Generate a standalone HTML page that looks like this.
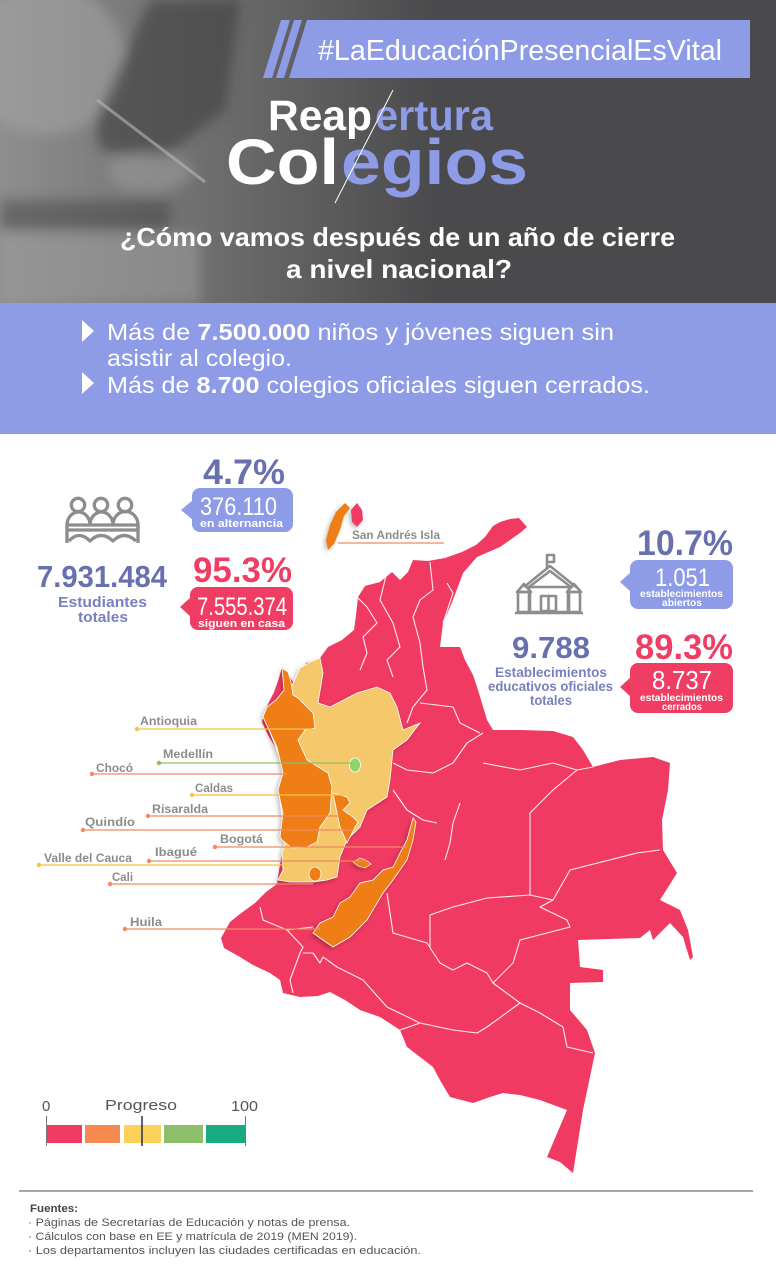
<!DOCTYPE html>
<html><head><meta charset="utf-8"><style>
html,body{margin:0;padding:0;background:#fff;}
svg{display:block;font-family:"Liberation Sans",Arial,sans-serif;}
</style></head><body>
<svg width="776" height="1280" viewBox="0 0 776 1280" xmlns="http://www.w3.org/2000/svg">
<defs>
<linearGradient id="hg" x1="0" y1="0" x2="1" y2="0">
<stop offset="0" stop-color="#8e8e8e"/><stop offset="0.5" stop-color="#6c6c6d"/><stop offset="1" stop-color="#4a4a4c"/>
</linearGradient>
<filter id="bl" x="-20%" y="-20%" width="140%" height="140%"><feGaussianBlur stdDeviation="6"/></filter>
<filter id="sh" x="-10%" y="-10%" width="120%" height="120%"><feDropShadow dx="-2" dy="2" stdDeviation="2" flood-color="#000" flood-opacity="0.25"/></filter>
</defs>

<!-- HEADER -->
<rect x="0" y="0" width="776" height="303" fill="#4a4a4c"/>
<rect x="0" y="0" width="440" height="303" fill="url(#hg)"/>
<g filter="url(#bl)">
<ellipse cx="45" cy="60" rx="80" ry="75" fill="#a4a4a4" opacity="0.55"/>
<polygon points="150,0 240,0 225,110 160,160 100,150 95,120" fill="#3c3c3e" opacity="0.6"/>
<ellipse cx="150" cy="172" rx="42" ry="20" fill="#9a9a9a" opacity="0.6"/>
<rect x="0" y="235" width="200" height="68" fill="#9c9c9c" opacity="0.55"/>
<rect x="0" y="200" width="170" height="30" fill="#3a3a3a" opacity="0.45"/>
</g>
<line x1="97" y1="100" x2="205" y2="182" stroke="#b8b8b8" stroke-width="3" opacity="0.6"/>

<!-- hashtag banner -->
<polygon points="281,20 290,20 272,78 263,78" fill="#8e9be6"/>
<polygon points="294,20 302,20 284,78 276,78" fill="#8e9be6"/>
<polygon points="307,20 750,20 750,78 289,78" fill="#8e9be6"/>
<text x="318" y="60" font-size="29" fill="#fff" textLength="404" lengthAdjust="spacingAndGlyphs">#LaEducaciónPresencialEsVital</text>

<!-- title -->
<text x="268" y="130" font-size="43" font-weight="bold" fill="#fff" textLength="104" lengthAdjust="spacingAndGlyphs">Reap</text>
<text x="375" y="130" font-size="43" font-weight="bold" fill="#8e9be6" textLength="118" lengthAdjust="spacingAndGlyphs">ertura</text>
<text x="226" y="184" font-size="64" font-weight="bold" fill="#fff" textLength="113" lengthAdjust="spacingAndGlyphs">Col</text>
<text x="341" y="184" font-size="64" font-weight="bold" fill="#8e9be6" textLength="187" lengthAdjust="spacingAndGlyphs">egios</text>
<line x1="393" y1="90" x2="335" y2="203" stroke="#fff" stroke-width="1"/>

<text x="120" y="246" font-size="26" font-weight="bold" fill="#fff" textLength="555" lengthAdjust="spacingAndGlyphs">¿Cómo vamos después de un año de cierre</text>
<text x="286" y="278" font-size="26" font-weight="bold" fill="#fff" textLength="226" lengthAdjust="spacingAndGlyphs">a nivel nacional?</text>

<!-- BLUE BAND -->
<rect x="0" y="303" width="776" height="131" fill="#8e9be6"/>
<polygon points="82,320 94,331 82,342" fill="#fff"/>
<polygon points="82,372 94,383 82,394" fill="#fff"/>
<text x="107" y="340" font-size="23" fill="#fff" textLength="507" lengthAdjust="spacingAndGlyphs">Más de <tspan font-weight="bold">7.500.000</tspan> niños y jóvenes siguen sin</text>
<text x="107" y="366" font-size="23" fill="#fff" textLength="185" lengthAdjust="spacingAndGlyphs">asistir al colegio.</text>
<text x="107" y="393" font-size="23" fill="#fff" textLength="543" lengthAdjust="spacingAndGlyphs">Más de <tspan font-weight="bold">8.700</tspan> colegios oficiales siguen cerrados.</text>

<!-- MAP -->
<polygon fill="#f03a62" points="527,527 519,518 510,519 500,522 493,526 485,537 476,545 462,552 445,558 428,561 413,560 408,572 400,580 392,572 380,582 365,586 358,597 356,615 354,630 342,640 328,647 320,658 306,663 300,672 298,690 293,682 287,672 282,667 279,678 274,692 266,708 262,722 268,735 277,750 287,770 281,785 280,800 283,817 287,843 282,855 279,870 277,884 266,892 255,903 240,914 230,922 221,938 224,948 240,957 253,965 270,973 280,980 283,993 300,997 318,996 330,992 345,1000 360,1010 380,1017 400,1030 407,1047 420,1057 433,1067 441,1082 450,1097 473,1103 490,1097 503,1093 520,1095 540,1100 567,1110 547,1157 560,1162 573,1173 583,1110 595,1053 587,1030 570,1010 570,983 603,982 603,970 580,967 578,940 640,938 650,930 653,940 670,923 683,937 690,960 693,957 688,930 680,910 660,900 677,873 663,850 662,820 668,790 670,763 653,757 620,760 593,767 583,750 573,737 553,731 520,730 493,730 487,720 478,690 473,675 465,660 460,647 440,647 443,623 453,600 463,573 477,557 500,547 520,533"/>
<g fill="none" stroke="#fff" stroke-width="1.1" opacity="0.9" stroke-linejoin="round">
<polyline points="430,562 433,590 420,600 413,617 420,643 423,667 427,690 413,707 407,723"/>
<polyline points="387,572 380,600 393,623 400,647 387,660 393,677"/>
<polyline points="357,597 367,607 377,623 363,637 367,653 360,670"/>
<polyline points="447,583 453,593 443,623"/>
<polyline points="420,703 453,707 460,723 480,733"/>
<polyline points="393,763 407,770 433,773 453,763 467,743 483,733"/>
<polyline points="483,763 520,770 553,763 577,770 593,767"/>
<polyline points="577,770 553,790 530,813 530,850 530,895"/>
<polyline points="460,803 453,823 450,843 445,860"/>
<polyline points="393,790 407,810 423,820 437,823"/>
<polyline points="430,915 453,907 487,898 530,895 553,900"/>
<polyline points="430,915 430,947"/>
<polyline points="387,893 393,933 427,943 440,963 453,970 467,963 487,973 493,983 520,1003"/>
<polyline points="493,983 513,963 520,940 570,927 567,920 540,907 553,900 570,870 637,853 660,850"/>
<polyline points="520,1003 540,1013 563,1027 567,1047 593,1053"/>
<polyline points="520,1003 487,1027 477,1033 453,1030 420,1023 400,1030"/>
<polyline points="323,957 337,967 363,980 387,1007 420,1023"/>
<polyline points="260,907 263,920 287,930 303,947 300,953 290,980 293,993"/>
<polyline points="303,953 313,953 320,963 323,957"/>
<polyline points="287,930 313,927"/>
</g>
<g filter="url(#sh)">
<polygon fill="#f6c86c" stroke="#fff" stroke-width="0.8" points="320,658 323,673 318,703 330,707 357,693 377,687 390,693 397,707 403,730 420,723 407,740 393,750 390,780 387,797 367,810 360,827 347,840 340,857 337,877 327,880 313,882 290,882 278,880 283,870 282,853 285,845 280,800 285,770 275,745 265,720 290,690 300,668 310,662"/>
<polygon fill="#ef7e14" stroke="#fff" stroke-width="0.8" points="282,668 288,672 291,682 293,695 298,698 313,713 315,728 305,730 298,740 307,760 328,773 332,787 330,813 320,827 317,842 307,847 292,848 282,840 280,837 283,813 278,790 283,773 277,747 263,717 267,707 276,700 284,690 283,678"/>
<polygon fill="#ef7e14" stroke="#fff" stroke-width="0.8" points="333,793 347,797 350,803 343,810 353,817 358,822 355,827 350,837 347,843 340,827 337,813"/>
<polygon fill="#ef7e14" stroke="#fff" stroke-width="0.8" points="413,818 407,840 400,853 393,867 383,870 373,880 360,883 350,897 340,903 333,917 320,923 313,933 323,940 333,947 350,937 367,920 383,893 393,880 407,860 413,840 416,822"/>
<polygon fill="#ef7e14" stroke="#fff" stroke-width="0.6" points="353,862 360,858 366,860 371,864 365,868 358,866"/>
<ellipse cx="315" cy="874" rx="6" ry="7" fill="#ef7e14" stroke="#fff" stroke-width="0.8"/>
<ellipse cx="355" cy="765" rx="5.5" ry="7" fill="#8fd46a" stroke="#fff" stroke-width="0.8"/>
<!-- San Andres -->
<polygon fill="#ef7e14" points="345,503 350,508 344,516 340,530 334,544 328,550 326,540 330,525 336,512"/>
<polygon fill="#f03a62" points="357,503 362,510 363,520 357,527 352,522 351,510"/>
</g>

<!-- map labels -->
<g font-size="11.5" font-weight="bold" fill="#8c8c8c">
<text x="352" y="539" textLength="88" lengthAdjust="spacingAndGlyphs">San Andrés Isla</text>
<text x="140" y="725" textLength="57" lengthAdjust="spacingAndGlyphs">Antioquia</text>
<text x="163" y="758" textLength="50" lengthAdjust="spacingAndGlyphs">Medellín</text>
<text x="96" y="772" textLength="37" lengthAdjust="spacingAndGlyphs">Chocó</text>
<text x="195" y="792" textLength="38" lengthAdjust="spacingAndGlyphs">Caldas</text>
<text x="152" y="813" textLength="56" lengthAdjust="spacingAndGlyphs">Risaralda</text>
<text x="85" y="826" textLength="50" lengthAdjust="spacingAndGlyphs">Quindío</text>
<text x="220" y="843" textLength="43" lengthAdjust="spacingAndGlyphs">Bogotá</text>
<text x="155" y="856" textLength="42" lengthAdjust="spacingAndGlyphs">Ibagué</text>
<text x="44" y="862" textLength="88" lengthAdjust="spacingAndGlyphs">Valle del Cauca</text>
<text x="112" y="881" textLength="21" lengthAdjust="spacingAndGlyphs">Cali</text>
<text x="130" y="926" textLength="32" lengthAdjust="spacingAndGlyphs">Huila</text>
</g>
<g stroke-width="1.3">
<line x1="338" y1="543" x2="444" y2="543" stroke="#f4895f"/>
<line x1="137" y1="729" x2="313" y2="729" stroke="#f6c443"/><circle cx="137" cy="729" r="2.2" fill="#f6c443"/>
<line x1="159" y1="763" x2="353" y2="763" stroke="#8cc063"/><circle cx="159" cy="763" r="2.2" fill="#8cc063"/>
<line x1="92" y1="774" x2="287" y2="774" stroke="#f4895f"/><circle cx="92" cy="774" r="2.2" fill="#f4895f"/>
<line x1="192" y1="795" x2="345" y2="795" stroke="#f6c443"/><circle cx="192" cy="795" r="2.2" fill="#f6c443"/>
<line x1="148" y1="816" x2="340" y2="816" stroke="#f4895f"/><circle cx="148" cy="816" r="2.2" fill="#f4895f"/>
<line x1="83" y1="830" x2="353" y2="830" stroke="#f4895f"/><circle cx="83" cy="830" r="2.2" fill="#f4895f"/>
<line x1="215" y1="847" x2="407" y2="847" stroke="#f4895f"/><circle cx="215" cy="847" r="2.2" fill="#f4895f"/>
<line x1="149" y1="861" x2="367" y2="861" stroke="#f4895f"/><circle cx="149" cy="861" r="2.2" fill="#f4895f"/>
<line x1="39" y1="865" x2="287" y2="865" stroke="#f6c443"/><circle cx="39" cy="865" r="2.2" fill="#f6c443"/>
<line x1="110" y1="884" x2="313" y2="884" stroke="#f4895f"/><circle cx="110" cy="884" r="2.2" fill="#f4895f"/>
<line x1="125" y1="929" x2="320" y2="929" stroke="#f4895f"/><circle cx="125" cy="929" r="2.2" fill="#f4895f"/>
</g>

<!-- LEFT STATS -->
<g fill="none" stroke="#8d8d8d" stroke-width="3.3" stroke-linejoin="round">
<circle cx="78" cy="505" r="6.7"/><circle cx="101" cy="505" r="6.7"/><circle cx="125" cy="505" r="6.7"/>
<path d="M67,525 A11.5,13 0 0 1 90,525 A11.5,13 0 0 1 113,525 A12,13 0 0 1 138,525"/>
<rect x="67" y="525" width="71" height="5"/>
<path d="M67,525 V543 M138,525 V543"/>
<path d="M69,541 Q79,530 90,541 Q101,530 113,541 Q124,530 136,541"/>
</g>
<text x="203" y="484" font-size="35" font-weight="bold" fill="#6870b0" textLength="82" lengthAdjust="spacingAndGlyphs">4.7%</text>
<rect x="192" y="488" width="101" height="44" rx="8" fill="#8e9be6"/>
<polygon points="193,500 181,510 193,520" fill="#8e9be6"/>
<text x="200" y="515" font-size="25" fill="#fff" textLength="77" lengthAdjust="spacingAndGlyphs">376.110</text>
<text x="200" y="527" font-size="11" font-weight="bold" fill="#fff" textLength="83" lengthAdjust="spacingAndGlyphs">en alternancia</text>

<text x="37" y="587" font-size="31" font-weight="bold" fill="#6870b0" textLength="130" lengthAdjust="spacingAndGlyphs">7.931.484</text>
<text x="58" y="607" font-size="15" font-weight="bold" fill="#7880bd" textLength="89" lengthAdjust="spacingAndGlyphs">Estudiantes</text>
<text x="78" y="622" font-size="15" font-weight="bold" fill="#7880bd" textLength="50" lengthAdjust="spacingAndGlyphs">totales</text>

<text x="193" y="582" font-size="35" font-weight="bold" fill="#f03d63" textLength="99" lengthAdjust="spacingAndGlyphs">95.3%</text>
<rect x="190" y="587" width="103" height="43" rx="8" fill="#f03d63"/>
<polygon points="191,597 180,607 191,617" fill="#f03d63"/>
<text x="197" y="615" font-size="25" fill="#fff" textLength="90" lengthAdjust="spacingAndGlyphs">7.555.374</text>
<text x="198" y="627" font-size="11" font-weight="bold" fill="#fff" textLength="87" lengthAdjust="spacingAndGlyphs">siguen en casa</text>

<!-- RIGHT STATS -->
<g fill="none" stroke="#8d8d8d" stroke-width="2.6" stroke-linejoin="round">
<path d="M547,568 V555 H554 V562 H547"/>
<path d="M524,587 L550,566 L576,587"/>
<path d="M529,587 L550,571 L571,587"/>
<rect x="529" y="587" width="40" height="25"/>
<path d="M517,592 L524,584 L531,592 Z"/>
<path d="M567,592 L574,584 L581,592 Z"/>
<rect x="518" y="592" width="12" height="20"/>
<rect x="568" y="592" width="12" height="20"/>
<rect x="541" y="596" width="15" height="15"/>
<path d="M548.5,596 V611"/>
<path d="M515,613 H583"/>
</g>
<text x="637" y="555" font-size="35" font-weight="bold" fill="#6870b0" textLength="96" lengthAdjust="spacingAndGlyphs">10.7%</text>
<rect x="630" y="560" width="103" height="49" rx="8" fill="#8e9be6"/>
<polygon points="631,572 620,582 631,592" fill="#8e9be6"/>
<text x="655" y="586" font-size="25" fill="#fff" textLength="55" lengthAdjust="spacingAndGlyphs">1.051</text>
<text x="640" y="597" font-size="10" font-weight="bold" fill="#fff" textLength="83" lengthAdjust="spacingAndGlyphs">establecimientos</text>
<text x="662" y="606" font-size="10" font-weight="bold" fill="#fff" textLength="40" lengthAdjust="spacingAndGlyphs">abiertos</text>

<text x="512" y="658" font-size="31" font-weight="bold" fill="#6870b0" textLength="78" lengthAdjust="spacingAndGlyphs">9.788</text>
<text x="495" y="677" font-size="14" font-weight="bold" fill="#7880bd" textLength="112" lengthAdjust="spacingAndGlyphs">Establecimientos</text>
<text x="488" y="691" font-size="14" font-weight="bold" fill="#7880bd" textLength="125" lengthAdjust="spacingAndGlyphs">educativos oficiales</text>
<text x="530" y="705" font-size="14" font-weight="bold" fill="#7880bd" textLength="42" lengthAdjust="spacingAndGlyphs">totales</text>

<text x="635" y="659" font-size="35" font-weight="bold" fill="#f03d63" textLength="98" lengthAdjust="spacingAndGlyphs">89.3%</text>
<rect x="630" y="663" width="103" height="50" rx="8" fill="#f03d63"/>
<polygon points="631,677 620,687 631,697" fill="#f03d63"/>
<text x="652" y="689" font-size="26" fill="#fff" textLength="60" lengthAdjust="spacingAndGlyphs">8.737</text>
<text x="640" y="701" font-size="10" font-weight="bold" fill="#fff" textLength="83" lengthAdjust="spacingAndGlyphs">establecimientos</text>
<text x="662" y="710" font-size="10" font-weight="bold" fill="#fff" textLength="40" lengthAdjust="spacingAndGlyphs">cerrados</text>

<!-- LEGEND -->
<g font-size="15" fill="#555">
<text x="42" y="1111">0</text>
<text x="105" y="1110" textLength="72" lengthAdjust="spacingAndGlyphs">Progreso</text>
<text x="231" y="1111" textLength="27" lengthAdjust="spacingAndGlyphs">100</text>
</g>
<rect x="47" y="1125" width="35" height="18" fill="#f03a62"/>
<rect x="85" y="1125" width="35" height="18" fill="#f5894f"/>
<rect x="124" y="1125" width="37" height="18" fill="#fbd15b"/>
<rect x="164" y="1125" width="39" height="18" fill="#8dbf6b"/>
<rect x="206" y="1125" width="39" height="18" fill="#18ab82"/>
<line x1="46.5" y1="1116" x2="46.5" y2="1146" stroke="#777" stroke-width="1"/>
<line x1="245.5" y1="1116" x2="245.5" y2="1146" stroke="#777" stroke-width="1"/>
<line x1="142" y1="1116" x2="142" y2="1146" stroke="#2c2f4a" stroke-width="1.5"/>

<!-- FOOTER -->
<line x1="19" y1="1191" x2="753" y2="1191" stroke="#8a8a8a" stroke-width="1.5"/>
<text x="30" y="1212" font-size="11" font-weight="bold" fill="#444" textLength="48" lengthAdjust="spacingAndGlyphs">Fuentes:</text>
<g font-size="11" fill="#555">
<text x="28" y="1226" textLength="322" lengthAdjust="spacingAndGlyphs">· Páginas de Secretarías de Educación y notas de prensa.</text>
<text x="28" y="1240" textLength="329" lengthAdjust="spacingAndGlyphs">· Cálculos con base en EE y matrícula de 2019 (MEN 2019).</text>
<text x="28" y="1254" textLength="393" lengthAdjust="spacingAndGlyphs">· Los departamentos incluyen las ciudades certificadas en educación.</text>
</g>
</svg>
</body></html>
